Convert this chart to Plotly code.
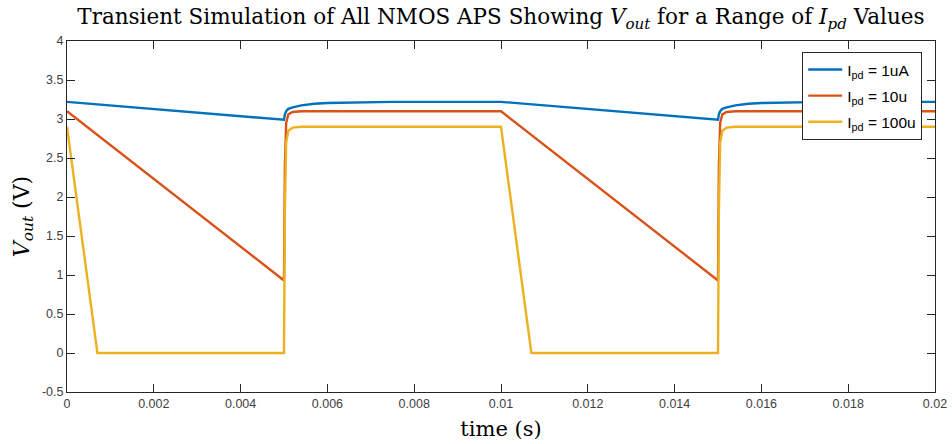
import plotly.graph_objects as go

# ---- data ----
t_1u = [0, 0.005, 0.00502, 0.00505, 0.0051, 0.0052, 0.0054, 0.0057, 0.006, 0.0065, 0.007, 0.0075, 0.01,
        0.015, 0.01502, 0.01505, 0.0151, 0.0152, 0.0154, 0.0157, 0.016, 0.0165, 0.017, 0.0175, 0.02]
v_1u = [3.22, 2.99, 3.06, 3.10, 3.13, 3.15, 3.175, 3.195, 3.205, 3.213, 3.218, 3.22, 3.22,
        2.99, 3.06, 3.10, 3.13, 3.15, 3.175, 3.195, 3.205, 3.213, 3.218, 3.22, 3.22]

t_10u = [0, 0.005, 0.00502, 0.00505, 0.0051, 0.0052, 0.0054, 0.01,
         0.015, 0.01502, 0.01505, 0.0151, 0.0152, 0.0154, 0.02]
v_10u = [3.10, 0.93, 2.4, 2.95, 3.06, 3.09, 3.10, 3.10,
         0.93, 2.4, 2.95, 3.06, 3.09, 3.10, 3.10]

t_100u = [0, 0.0007, 0.005, 0.00502, 0.00505, 0.0051, 0.0052, 0.0054, 0.01, 0.0107,
          0.015, 0.01502, 0.01505, 0.0151, 0.0152, 0.0154, 0.02]
v_100u = [2.9, 0, 0, 1.8, 2.7, 2.85, 2.89, 2.9, 2.9, 0,
          0, 1.8, 2.7, 2.85, 2.89, 2.9, 2.9]

series_names = ["I<sub>pd</sub> = 1uA", "I<sub>pd</sub> = 10u", "I<sub>pd</sub> = 100u"]
series_colors = ["#0072BD", "#D95319", "#EDB120"]

x_tickvals = [0, 0.002, 0.004, 0.006, 0.008, 0.01, 0.012, 0.014, 0.016, 0.018, 0.02]
x_ticktext = ["0", "0.002", "0.004", "0.006", "0.008", "0.01", "0.012", "0.014", "0.016", "0.018", "0.02"]
y_tickvals = [-0.5, 0, 0.5, 1, 1.5, 2, 2.5, 3, 3.5, 4]
y_ticktext = ["-0.5", "0", "0.5", "1", "1.5", "2", "2.5", "3", "3.5", "4"]

fig = go.Figure()
for i, (t, v, name, col) in enumerate(zip([t_1u, t_10u, t_100u], [v_1u, v_10u, v_100u],
                                          series_names, series_colors)):
    fig.add_trace(go.Scatter(x=t, y=v, mode="lines", name=name, legendgroup=f"g{i}",
                             line=dict(color=col, width=2.4)))

axis_common = dict(showline=True, linecolor="#262626", linewidth=1, mirror="ticks",
                   ticks="inside", ticklen=8, tickcolor="#262626", tickwidth=1,
                   showgrid=False, zeroline=False, automargin=False,
                   tickfont=dict(family="Liberation Sans, Arial", size=12.5, color="#404040"))

serif = "DejaVu Serif, serif"

fig.update_layout(
    width=952, height=444,
    margin=dict(l=67, r=17, t=41, b=52, autoexpand=False),
    paper_bgcolor="white", plot_bgcolor="white",
    title=dict(text="Transient Simulation of All NMOS APS Showing <i>V</i><sub><i>out</i></sub> for a Range of <i>I</i><sub><i>pd</i></sub> Values",
               x=0.5262, xanchor="center", y=0.962, yanchor="middle",
               font=dict(family=serif, size=21.5, color="black")),
    xaxis=dict(range=[0, 0.02], tickvals=x_tickvals, ticktext=x_ticktext,
               title=dict(text="time (s)", standoff=11,
                          font=dict(family=serif, size=21, color="black")),
               **axis_common),
    yaxis=dict(range=[-0.5, 4], tickvals=y_tickvals, ticktext=y_ticktext,
               title=dict(text="<i>V</i><sub><i>out</i></sub> (V)", standoff=6,
                          font=dict(family=serif, size=22, color="black")),
               **axis_common),
    legend=dict(x=0.847, y=0.969, xanchor="left", yanchor="top",
                bgcolor="white", bordercolor="#262626", borderwidth=1,
                font=dict(family="Liberation Sans, Arial", size=15.5, color="black"),
                tracegroupgap=3, itemwidth=34),
    showlegend=True,
)

fig.write_html("out.html")
